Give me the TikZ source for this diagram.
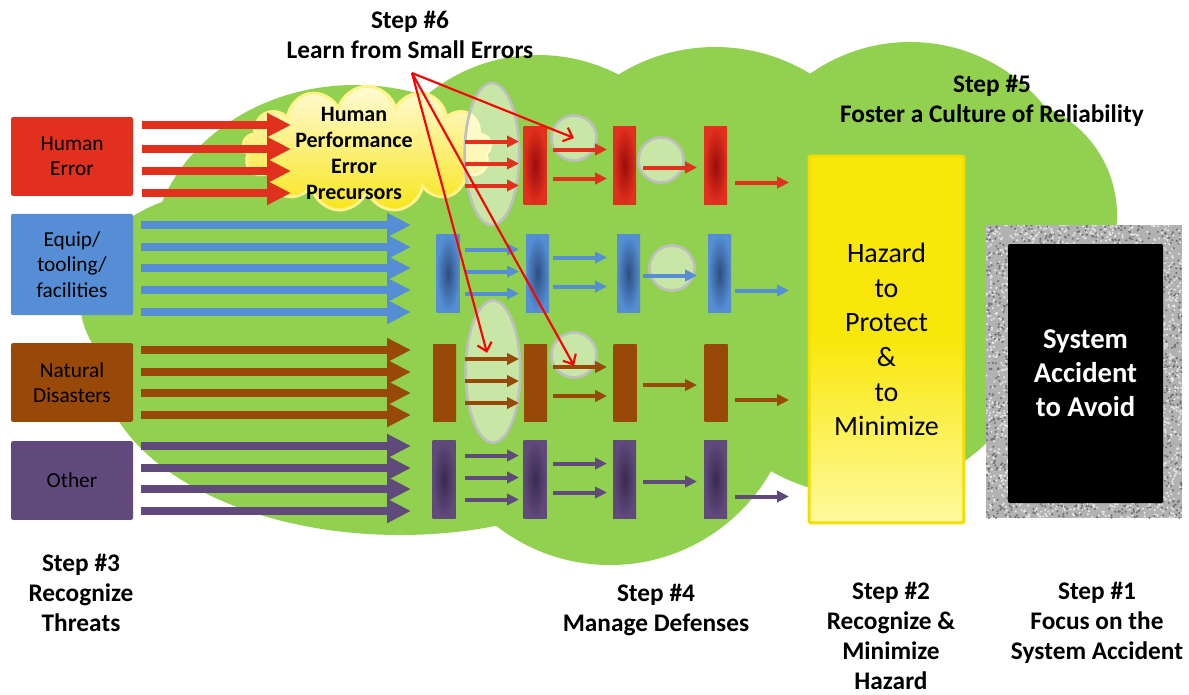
\documentclass[tikz,border=0pt]{standalone}
\usepackage{fontspec}
\setmainfont{Carlito}
\usetikzlibrary{arrows.meta,shapes.geometric,shapes.symbols}
\definecolor{cloudgreen}{HTML}{92D050}
\definecolor{errred}{HTML}{E2301E}
\definecolor{equipblue}{HTML}{558ED5}
\definecolor{natbrown}{HTML}{984807}
\definecolor{otherpurple}{HTML}{604A7B}
\definecolor{barred}{HTML}{9A0C0A}
\definecolor{barblue}{HTML}{2D4E7E}
\definecolor{barpurple}{HTML}{3A2A50}
\definecolor{rimgray}{HTML}{BFBFBF}
\definecolor{puffrim}{HTML}{FFF38A}
\definecolor{pufftop}{HTML}{FFFBD6}
\definecolor{puffbot}{HTML}{F8E51C}
\definecolor{hazyellow}{HTML}{F9E70C}
\definecolor{hazlight}{HTML}{FFFA9E}
\definecolor{hazrim}{HTML}{F2DE00}
\tikzset{
  srcbox/.style={fill=#1, rounded corners=1.5pt, minimum width=91.5pt, inner sep=0pt,
    align=center, font=\fontsize{16}{19}\selectfont},
  threat/.style={color=#1, line width=6.5pt, -{Triangle[length=18pt,width=17pt]}},
  flow/.style={color=#1, line width=3pt, -{Triangle[length=9pt,width=8.5pt]}},
  barrier/.style 2 args={inner sep=0pt, minimum width=17.25pt, minimum height=58pt,
    shading=radial, inner color=#1, outer color=#2},
  hole/.style={draw=rimgray, line width=2pt, fill=white, fill opacity=.5, inner sep=0pt},
  steplabel/.style={font=\bfseries\fontsize{19}{22.5}\selectfont, align=center},
  learn/.style={draw=red, line width=1.6pt, -{Straight Barb[length=6pt,width=11pt]}},
}
\begin{document}
\begin{tikzpicture}[x=0.75pt,y=-0.75pt]
\useasboundingbox (0,0) rectangle (1189,694);
\fill[white] (0,0) rectangle (1189,694);
\fill[cloudgreen] (355,262) ellipse[x radius=205,y radius=177]
  (230,300) ellipse[x radius=150,y radius=110]
  (400,360) ellipse[x radius=300,y radius=175]
  (538,230) circle[radius=175]
  (715,230) circle[radius=183]
  (910,215) circle[radius=173]
  (1000,215) circle[radius=117]
  (860,290) ellipse[x radius=190,y radius=205]
  (610,380) circle[radius=185];
\node[cloud, cloud puffs=13, aspect=2, minimum width=186pt, minimum height=94pt,
  draw=puffrim, line width=2.25pt, top color=pufftop, bottom color=puffbot] (hpc) at (367,149) {};
\node[font=\bfseries\fontsize{16.5}{19.5}\selectfont, align=center] (hpc-text) at (354,153)
  {Human\\Performance\\Error\\Precursors};
\node[srcbox=errred, minimum height=59pt] (he) at (72,156.5) {Human\\Error};
\node[srcbox=equipblue, minimum height=76pt] (eq) at (72,264.5) {Equip/\\tooling/\\facilities};
\node[srcbox=natbrown, minimum height=59pt] (nd) at (72,382.5) {Natural\\Disasters};
\node[srcbox=otherpurple, minimum height=59pt] (ot) at (72,480.5) {Other};
\foreach \y in {125,149,171,193} \draw[threat=errred] (142,\y) -- (291,\y);
\foreach \y in {225,247,268,290,312} \draw[threat=equipblue] (141,\y) -- (411,\y);
\foreach \y in {350,372,393,415} \draw[threat=natbrown] (141,\y) -- (411,\y);
\foreach \y in {446,468,489,511} \draw[threat=otherpurple] (141,\y) -- (411,\y);
\node[hole, ellipse, minimum width=41pt, minimum height=106.5pt] (gap-r) at (492,154) {};
\node[hole, ellipse, minimum width=41pt, minimum height=106.5pt] (gap-n) at (493,371.5) {};
\node[hole, circle, minimum size=33.75pt] (hole-r1) at (574,138) {};
\node[hole, circle, minimum size=33.75pt] (hole-r2) at (661,160) {};
\node[hole, circle, minimum size=33.75pt] (hole-b1) at (672,268) {};
\node[hole, circle, minimum size=33.75pt] (hole-n1) at (574,355) {};
\foreach \n/\c/\ci/\yc/\cols in {r/errred/barred/165.5/{535,624.5,715.5},
    b/equipblue/barblue/273.5/{448,537.5,628.5,719.5},
    n/natbrown/natbrown/383/{444.5,535.5,625,716},
    o/otherpurple/barpurple/479.5/{444,535,624.5,715.5}} {
  \foreach \x [count=\k] in \cols
    \node[barrier={\ci}{\c}] (bar-\n-\k) at (\x,\yc) {};
  \foreach \d in {-24,-2,20} \draw[flow=\c] (465,\yc+\d) -- (519,\yc+\d);
  \foreach \d in {-16,13} \draw[flow=\c] (553,\yc+\d) -- (607,\yc+\d);
  \draw[flow=\c] (643,\yc+2) -- (697,\yc+2);
  \draw[flow=\c] (735,\yc+17) -- (789,\yc+17);
}
\node[draw=hazrim, line width=2.25pt, top color=hazyellow, bottom color=hazlight, middle color=hazyellow,
  rounded corners=1pt, minimum width=116pt, minimum height=275pt, align=center,
  font=\fontsize{21}{26}\selectfont] (haz) at (886.5,339.5) {Hazard\\to\\Protect\\\&\\to\\Minimize};
\node[fill=black!30, minimum width=147pt, minimum height=219.75pt, inner sep=0pt] (rim) at (1084,371.5) {};
\begin{scope}
\clip (986,225) rectangle (1182,518);
\pgfmathsetseed{11}
\foreach \gx/\gy/\gw/\gh/\gn in {986/225/196/19/300, 986/503/196/15/240, 986/244/22/259/430, 1163/244/19/259/380} {
  \foreach \i in {1,...,\gn} {
    \pgfmathsetmacro\px{\gx+\gw*rnd}
    \pgfmathsetmacro\py{\gy+\gh*rnd}
    \pgfmathtruncatemacro\tone{rnd<0.55 ? 10 : 55}
    \fill[black!\tone] (\px,\py) circle[radius=1.2];
  }
}
\end{scope}
\node[fill=black, rounded corners=1pt, minimum width=116.25pt, minimum height=194.25pt, inner sep=0pt,
  text=white, align=center, font=\bfseries\fontsize{21.5}{25.5}\selectfont] (acc) at (1085.5,373.5)
  {System\\Accident\\to Avoid};
\node[steplabel] (step6) at (410,35) {Step \#6\\Learn from Small Errors};
\coordinate (s6) at (412,73);
\draw[learn] (s6) -- (hole-r1.center);
\draw[learn] (s6) -- ([xshift=-4.5pt,yshift=14pt]gap-n.center);
\draw[learn] (s6) -- ([yshift=-8pt]hole-n1.center);
\node[steplabel] (step5) at (992,101) {Step \#5\\Foster a Culture of Reliability};
\node[steplabel] (step3) at (81,593) {Step \#3\\Recognize\\Threats};
\node[steplabel] (step4) at (656,610) {Step \#4\\Manage Defenses};
\node[steplabel] (step2) at (891,635.5) {Step \#2\\Recognize \&\\Minimize\\Hazard};
\node[steplabel] (step1) at (1097,622.5) {Step \#1\\Focus on the\\System Accident};
\end{tikzpicture}
\end{document}
